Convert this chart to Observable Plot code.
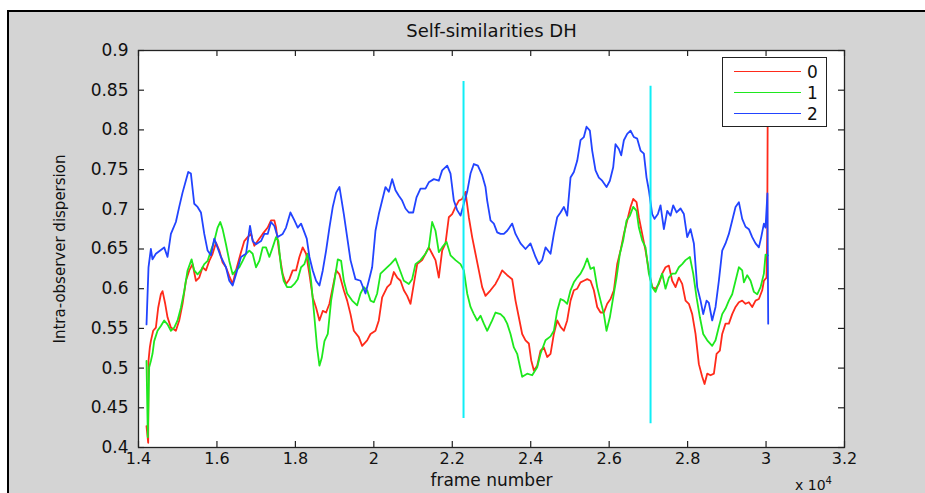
<!DOCTYPE html>
<html><head><meta charset="utf-8">
<script src="https://cdn.jsdelivr.net/npm/d3@7"></script>
<script src="https://cdn.jsdelivr.net/npm/@observablehq/plot@0.6"></script>
<style>
html,body{margin:0;padding:0;background:#fff;}
#wrap{position:relative;width:925px;height:493px;overflow:hidden;font-family:"DejaVu Sans",sans-serif;color:#111;}
#fig{position:absolute;left:7px;top:10px;right:0;bottom:0;background:#d4d4d4;border-top:2px solid #000;border-left:2px solid #000;}
#chart{position:absolute;left:0;top:0;}
#legend{position:absolute;left:722px;top:57px;width:105px;height:70px;background:#fff;border:1px solid #222;box-sizing:border-box;}
.lrow{position:absolute;left:0;width:100%;height:20px;}
.lline{position:absolute;left:11px;width:67px;top:9px;height:0;border-top:1.5px solid;}
.ltxt{position:absolute;left:84px;top:0;font-size:17px;line-height:20px;}
#xexp{position:absolute;left:795px;top:479px;font-size:14px;line-height:13px;white-space:nowrap;}
#xexp sup{font-size:10px;line-height:0;vertical-align:6px;}
</style></head>
<body><div id="wrap"><div id="fig"></div><div id="chart"></div><div id="legend"></div><div id="xexp">x 10<sup>4</sup></div></div>
<script>
const titleText = "Self-similarities DH";
const xLabel = "frame number";
const yLabel = "Intra-observer dispersion";
const seriesNames = ["0", "1", "2"];
const seriesColors = ["#ff2a1a", "#1ee81e", "#2244ff"];
const xTicks = [14000,16000,18000,20000,22000,24000,26000,28000,30000,32000];
const yTicks = [0.4,0.45,0.5,0.55,0.6,0.65,0.7,0.75,0.8,0.85,0.9];
const markerX = [22287, 27055];
const markerLow = [0.4365, 0.430];
const markerHigh = [0.861, 0.855];

const red = [[14204,0.427],[14247,0.406],[14255,0.509],[14289,0.526],[14315,0.534],[14374,0.547],[14443,0.551],[14502,0.576],[14570,0.593],[14613,0.597],[14681,0.581],[14740,0.564],[14826,0.551],[14953,0.547],[15038,0.560],[15123,0.581],[15209,0.610],[15294,0.623],[15379,0.631],[15464,0.610],[15549,0.614],[15634,0.627],[15719,0.623],[15804,0.635],[15889,0.644],[15975,0.658],[16060,0.648],[16145,0.633],[16230,0.627],[16315,0.616],[16400,0.606],[16485,0.623],[16613,0.646],[16698,0.660],[16783,0.665],[16868,0.669],[16953,0.654],[17038,0.660],[17166,0.669],[17294,0.677],[17379,0.686],[17464,0.686],[17507,0.677],[17592,0.644],[17677,0.618],[17762,0.606],[17847,0.612],[17932,0.623],[18017,0.623],[18102,0.640],[18187,0.652],[18273,0.644],[18358,0.618],[18443,0.589],[18528,0.576],[18613,0.560],[18698,0.572],[18783,0.570],[18868,0.581],[18953,0.602],[19039,0.623],[19124,0.618],
[19235,0.598],[19320,0.585],[19405,0.568],[19490,0.547],[19617,0.539],[19702,0.528],[19830,0.535],[19915,0.543],[20042,0.547],[20127,0.560],[20212,0.589],[20340,0.602],[20425,0.606],[20510,0.621],[20595,0.614],[20680,0.610],[20765,0.598],[20850,0.591],[20935,0.581],[21020,0.606],[21105,0.631],[21232,0.636],[21317,0.644],[21402,0.652],[21487,0.644],[21572,0.636],[21657,0.614],[21742,0.648],[21827,0.657],[21912,0.690],[21997,0.694],[22082,0.703],[22167,0.711],[22252,0.713],[22337,0.722],[22422,0.690],[22507,0.665],[22592,0.644],[22677,0.623],[22762,0.602],[22847,0.591],[22975,0.598],[23102,0.606],[23187,0.614],[23272,0.623],[23400,0.617],[23527,0.612],[23612,0.585],[23697,0.564],[23782,0.543],[23867,0.535],[23952,0.531],[24012,0.510],[24080,0.497],[24165,0.503],[24250,0.522],[24335,0.526],[24420,0.514],
[24505,0.518],[24590,0.543],[24675,0.560],[24760,0.552],[24845,0.547],[24930,0.560],[25015,0.585],[25100,0.598],[25185,0.600],[25270,0.608],[25355,0.610],[25440,0.612],[25525,0.610],[25610,0.598],[25695,0.577],[25780,0.570],[25865,0.570],[25950,0.581],[26035,0.587],[26120,0.598],[26205,0.631],[26290,0.648],[26375,0.669],[26460,0.686],[26545,0.703],[26613,0.713],[26698,0.709],[26757,0.690],[26842,0.669],[26927,0.648],[27012,0.623],[27097,0.602],[27182,0.600],[27267,0.606],[27352,0.619],[27437,0.627],[27522,0.629],[27607,0.610],[27692,0.602],[27777,0.614],[27862,0.606],[27947,0.585],[28032,0.581],[28117,0.568],[28202,0.543],[28287,0.505],[28372,0.489],[28432,0.480],[28500,0.493],[28585,0.491],[28670,0.493],[28738,0.518],[28822,0.522],[28882,0.543],[28967,0.556],[29052,0.556],[29137,0.568],[29222,0.577],[29307,0.583],[29392,0.585],[29477,0.581],[29562,0.583],[29647,0.577],[29732,0.585],[29817,0.587],[29902,0.598],[29945,0.610],[30012,0.614],[30030,0.669],[30045,0.860]];

const green = [[14204,0.509],[14238,0.413],[14272,0.501],[14315,0.509],[14357,0.518],[14400,0.534],[14485,0.547],[14570,0.553],[14655,0.560],[14740,0.555],[14826,0.547],[14911,0.551],[14996,0.560],[15081,0.576],[15166,0.597],[15251,0.623],[15353,0.637],[15421,0.623],[15506,0.618],[15592,0.623],[15677,0.631],[15762,0.635],[15847,0.648],[15932,0.660],[16017,0.677],[16085,0.684],[16145,0.675],[16230,0.656],[16315,0.635],[16400,0.618],[16485,0.623],[16570,0.627],[16655,0.635],[16741,0.644],[16826,0.648],[16911,0.644],[16996,0.627],[17081,0.635],[17166,0.652],[17251,0.652],[17336,0.640],[17421,0.652],[17507,0.665],[17566,0.660],[17634,0.627],[17702,0.610],[17787,0.602],[17890,0.602],[17975,0.606],[18060,0.612],[18145,0.627],[18230,0.631],[18315,0.644],[18400,0.610],[18485,0.564],[18553,0.526],[18613,0.503],[18673,0.513],[18741,0.534],[18826,0.543],[18911,0.585],[18996,0.610],[19081,0.637],[19166,0.635],
[19235,0.610],[19320,0.594],[19447,0.585],[19575,0.579],[19660,0.594],[19745,0.602],[19830,0.598],[19915,0.585],[20000,0.583],[20085,0.594],[20170,0.619],[20297,0.625],[20425,0.631],[20552,0.638],[20637,0.627],[20765,0.610],[20892,0.606],[20977,0.612],[21062,0.631],[21190,0.636],[21317,0.644],[21402,0.652],[21487,0.684],[21572,0.673],[21657,0.646],[21742,0.652],[21853,0.659],[21955,0.642],[22082,0.636],[22210,0.631],[22295,0.623],[22380,0.594],[22465,0.577],[22550,0.568],[22635,0.560],[22720,0.566],[22805,0.556],[22890,0.547],[23017,0.560],[23102,0.570],[23230,0.568],[23315,0.564],[23400,0.556],[23485,0.543],[23570,0.526],[23655,0.518],[23782,0.489],[23910,0.493],[24037,0.491],[24165,0.501],[24250,0.518],[24377,0.535],
[24505,0.540],[24590,0.547],[24675,0.572],[24760,0.587],[24845,0.585],[24930,0.581],[25015,0.598],[25100,0.608],[25185,0.614],[25270,0.619],[25355,0.627],[25440,0.638],[25525,0.625],[25610,0.627],[25695,0.602],[25780,0.585],[25865,0.568],[25933,0.547],[26018,0.564],[26103,0.589],[26188,0.614],[26273,0.644],[26358,0.661],[26443,0.686],[26528,0.692],[26613,0.703],[26698,0.698],[26757,0.677],[26842,0.661],[26927,0.652],[27012,0.619],[27097,0.602],[27182,0.596],[27267,0.608],[27352,0.619],[27437,0.600],[27522,0.614],[27607,0.619],[27692,0.619],[27777,0.627],[27862,0.631],[27947,0.636],[28058,0.640],[28143,0.619],[28228,0.589],[28313,0.564],[28398,0.543],[28500,0.535],[28627,0.528],[28712,0.535],[28797,0.552],[28882,0.568],[28967,0.575],[29052,0.585],[29137,0.593],[29222,0.610],[29307,0.627],[29392,0.623],[29435,0.608],[29520,0.617],[29605,0.610],[29690,0.596],[29775,0.593],[29860,0.602],[29945,0.619],[29987,0.643],[30047,0.642]];

const blue = [[14204,0.555],[14255,0.627],[14315,0.650],[14357,0.637],[14443,0.644],[14655,0.652],[14740,0.640],[14826,0.669],[14953,0.684],[15038,0.703],[15123,0.721],[15268,0.747],[15336,0.745],[15421,0.707],[15506,0.703],[15592,0.696],[15677,0.669],[15762,0.648],[15847,0.642],[15932,0.663],[16000,0.654],[16102,0.640],[16230,0.627],[16315,0.610],[16400,0.604],[16485,0.618],[16613,0.640],[16741,0.644],[16843,0.679],[16911,0.660],[16996,0.656],[17124,0.660],[17209,0.669],[17294,0.669],[17379,0.684],[17464,0.679],[17549,0.665],[17677,0.669],[17762,0.677],[17873,0.696],[17975,0.686],[18060,0.677],[18145,0.682],[18230,0.671],[18290,0.663],[18358,0.640],[18443,0.623],[18528,0.610],[18613,0.604],[18698,0.623],[18783,0.648],[18868,0.677],[18953,0.703],[19039,0.721],[19124,0.728],
[19235,0.694],[19320,0.665],[19405,0.636],[19532,0.612],[19660,0.610],[19787,0.594],[19872,0.610],[19957,0.627],[20042,0.673],[20127,0.694],[20212,0.711],[20297,0.728],[20382,0.722],[20467,0.738],[20552,0.724],[20637,0.717],[20722,0.711],[20807,0.701],[20892,0.696],[21003,0.696],[21088,0.715],[21190,0.726],[21317,0.726],[21402,0.734],[21530,0.738],[21657,0.736],[21742,0.749],[21870,0.755],[21955,0.745],[22040,0.711],[22125,0.699],[22210,0.692],[22295,0.707],[22380,0.722],[22465,0.745],[22550,0.757],[22652,0.755],[22762,0.743],[22847,0.728],[22890,0.711],[22975,0.686],[23060,0.682],[23145,0.671],[23230,0.669],[23315,0.669],[23400,0.673],[23527,0.682],[23612,0.669],[23740,0.657],[23867,0.650],[23995,0.657],[24122,0.640],[24207,0.631],[24292,0.636],[24377,0.652],
[24505,0.644],[24590,0.669],[24675,0.690],[24760,0.696],[24845,0.703],[24930,0.692],[25015,0.740],[25100,0.747],[25185,0.761],[25270,0.787],[25355,0.791],[25423,0.804],[25508,0.799],[25567,0.774],[25652,0.749],[25737,0.740],[25822,0.736],[25933,0.728],[26018,0.736],[26103,0.753],[26162,0.782],[26247,0.776],[26307,0.768],[26375,0.787],[26460,0.795],[26545,0.799],[26630,0.791],[26715,0.789],[26800,0.774],[26885,0.770],[26953,0.740],[27012,0.724],[27097,0.694],[27157,0.688],[27242,0.694],[27310,0.705],[27395,0.675],[27480,0.698],[27565,0.692],[27633,0.705],[27718,0.696],[27820,0.701],[27905,0.694],[27990,0.665],[28075,0.675],[28160,0.657],[28245,0.602],[28330,0.585],[28398,0.568],[28483,0.585],[28542,0.582],[28627,0.560],[28712,0.577],[28797,0.610],[28882,0.648],[28967,0.657],[29052,0.669],[29137,0.686],[29222,0.703],[29307,0.709],[29392,0.688],[29477,0.678],[29562,0.675],[29647,0.665],[29732,0.657],[29817,0.652],[29877,0.665],[29945,0.682],[29987,0.677],[30035,0.720],[30055,0.556]];

const seriesData = [red, green, blue];
const markers = markerX.map((x, i) => ({x, y1: markerLow[i], y2: markerHigh[i]}));
const fmtX = d => String(+(d / 10000).toFixed(2));
const fmtY = d => String(+d.toFixed(2));

const lineMarks = seriesData.map((s, i) =>
  Plot.line(s, {x: d => d[0], y: d => d[1], stroke: seriesColors[i], strokeWidth: 1.8, curve: "linear"}));

const tickStyle = {stroke: "#222", strokeWidth: 1.2};
const chart = Plot.plot({
  width: 925, height: 493,
  marginLeft: 138, marginRight: 81, marginTop: 50, marginBottom: 46,
  style: {background: "transparent", fontFamily: "DejaVu Sans", fontSize: "16px", color: "#111", overflow: "visible"},
  x: {domain: [14000, 32000], label: null},
  y: {domain: [0.4, 0.9], label: null},
  marks: [
    Plot.frame({fill: "white"}),
    ...lineMarks,
    Plot.ruleX(markers, {x: "x", y1: "y1", y2: "y2", stroke: "#10eef6", strokeWidth: 2}),
    Plot.ruleX(xTicks, {x: d => d, insetTop: 391, ...tickStyle}),
    Plot.ruleX(xTicks, {x: d => d, insetBottom: 391, ...tickStyle}),
    Plot.ruleY(yTicks, {y: d => d, insetRight: 700, ...tickStyle}),
    Plot.ruleY(yTicks, {y: d => d, insetLeft: 700, ...tickStyle}),
    Plot.frame({stroke: "#222", strokeWidth: 1.3}),
    Plot.axisX(xTicks, {tickFormat: fmtX, tickSize: 0, tickPadding: 5, label: null, fontSize: 16}),
    Plot.axisY(yTicks, {tickFormat: fmtY, tickSize: 0, tickPadding: 10, label: null, fontSize: 17}),
    Plot.text([titleText], {frameAnchor: "top", dy: -19, fontSize: 18, textAnchor: "middle", lineAnchor: "middle"}),
    Plot.text([xLabel], {frameAnchor: "bottom", dy: 33, fontSize: 17, textAnchor: "middle", lineAnchor: "middle"}),
    Plot.text([yLabel], {frameAnchor: "left", rotate: -90, dx: -78, fontSize: 15, textAnchor: "middle", lineAnchor: "middle"})
  ]
});
document.getElementById("chart").appendChild(chart);

const legend = document.getElementById("legend");
seriesNames.forEach((name, i) => {
  const row = document.createElement("div");
  row.className = "lrow";
  row.style.top = (4 + i * 21) + "px";
  const ln = document.createElement("div");
  ln.className = "lline";
  ln.style.borderTopColor = seriesColors[i];
  const tx = document.createElement("div");
  tx.className = "ltxt";
  tx.textContent = name;
  row.appendChild(ln); row.appendChild(tx);
  legend.appendChild(row);
});
</script>
</body></html>
